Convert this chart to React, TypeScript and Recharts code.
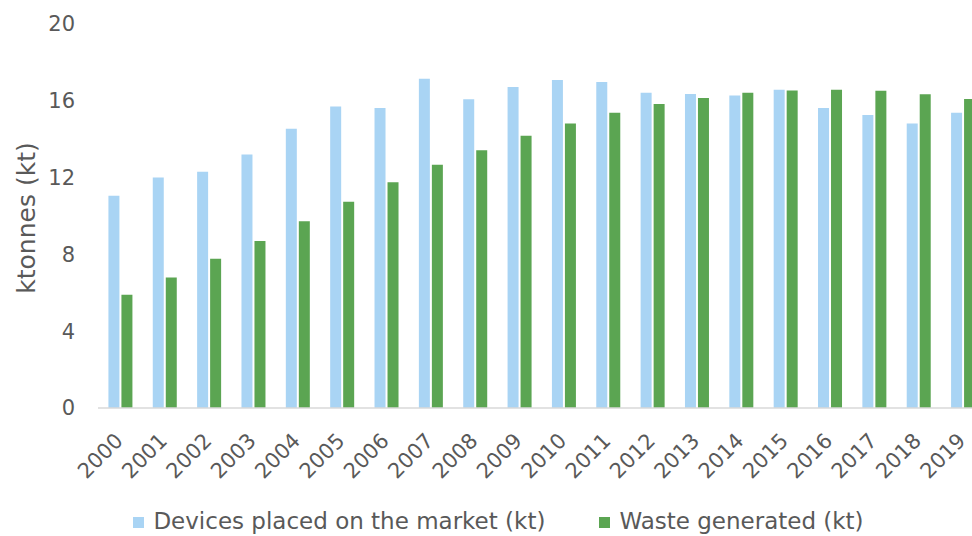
import React from 'react';
import { BarChart, Bar, XAxis, YAxis, Legend } from 'recharts';

const years = ['2000', '2001', '2002', '2003', '2004', '2005', '2006', '2007', '2008', '2009',
    '2010', '2011', '2012', '2013', '2014', '2015', '2016', '2017', '2018', '2019'];
const placedOnMarket = [11.05, 12.0, 12.3, 13.2, 14.55, 15.7, 15.63, 17.15, 16.08, 16.72,
    17.08, 16.98, 16.42, 16.35, 16.28, 16.58, 15.63, 15.26, 14.82, 15.38];
const wasteGenerated = [5.9, 6.8, 7.77, 8.7, 9.73, 10.74, 11.76, 12.67, 13.43, 14.18,
    14.82, 15.38, 15.83, 16.14, 16.42, 16.54, 16.58, 16.52, 16.34, 16.1];
const yTicks = [0, 4, 8, 12, 16, 20];

const textColor = '#595959';
const font = '"DejaVu Sans", Verdana, sans-serif';

const data = years.map((year, i) => ({
    year,
    market: placedOnMarket[i],
    waste: wasteGenerated[i],
}));

const YearTick = (props: any) => {
    const { x, y, payload } = props;
    const ax = x + 4;
    const ay = y + 34;
    return (
        <text x={ax} y={ay} transform={`rotate(-45, ${ax}, ${ay})`} textAnchor="end"
            fill={textColor} fontSize={21} fontFamily={font}>
            {payload.value}
        </text>
    );
};

const YLabel = (props: any) => {
    const { viewBox } = props;
    const cx = viewBox.x + 35;
    const cy = viewBox.y + viewBox.height / 2 + 2;
    return (
        <text x={cx} y={cy} transform={`rotate(-90, ${cx}, ${cy})`} textAnchor="middle"
            fill={textColor} fontSize={25} fontFamily={font}>
            ktonnes (kt)
        </text>
    );
};

const legendFormatter = (value: string, _entry: any, index: number) => (
    <span style={{ color: textColor, marginLeft: 5, marginRight: index === 0 ? 44 : 0 }}>{value}</span>
);

const App: React.FC = () => {
    return (
        <div style={{ position: 'absolute', left: 0, top: 0, width: 972, height: 536, overflow: 'hidden', background: '#fff' }}>
            <BarChart
                width={985}
                height={536}
                data={data}
                margin={{ top: 24, right: 0, bottom: 0, left: 0 }}
                barCategoryGap="23.5%"
                barGap={2}
                style={{ fontFamily: font }}
            >
                <XAxis
                    dataKey="year"
                    height={98}
                    tick={<YearTick />}
                    tickLine={false}
                    tickSize={0}
                    tickMargin={0}
                    interval={0}
                    axisLine={{ stroke: '#D9D9D9', strokeWidth: 1.5 }}
                />
                <YAxis
                    width={98}
                    domain={[0, 20]}
                    ticks={yTicks}
                    axisLine={false}
                    tickLine={false}
                    tickSize={0}
                    tickMargin={23}
                    tick={{ fill: textColor, fontSize: 21, fontFamily: font }}
                    label={<YLabel />}
                />
                <Legend
                    verticalAlign="bottom"
                    align="center"
                    iconType="square"
                    iconSize={11}
                    formatter={legendFormatter}
                    wrapperStyle={{ height: 30, lineHeight: '30px', fontSize: 23, fontFamily: font, paddingLeft: 11 }}
                />
                <Bar dataKey="market" name="Devices placed on the market (kt)" fill="#A9D4F4" isAnimationActive={false} />
                <Bar dataKey="waste" name="Waste generated (kt)" fill="#5BA552" isAnimationActive={false} />
            </BarChart>
        </div>
    );
};

export default App;
